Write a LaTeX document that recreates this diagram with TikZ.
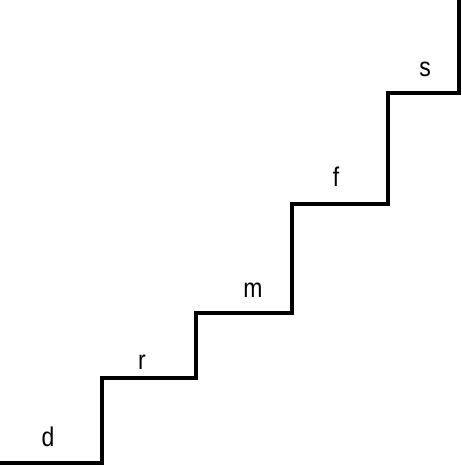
\documentclass[tikz,border=0pt]{standalone}
\usepackage{fontspec}
\setmainfont{Liberation Sans}[FakeStretch=0.85]
\begin{document}
\begin{tikzpicture}[x=1pt,y=-1pt,
  stair/.style={line width=3.2pt,line join=miter,black},
  lbl/.style={font=\fontsize{27}{29}\selectfont,inner sep=0pt}]
\useasboundingbox (0,0) rectangle (461,468);
\draw[stair] (0,463) -- (102,463) -- (102,378) -- (196,378) -- (196,313) -- (292,313)
  -- (292,204) -- (388,204) -- (388,93) -- (459,93) -- (459,0);
\node[lbl] (d) at (48,437) {d};
\node[lbl] (r) at (142,362) {r};
\node[lbl] (m) at (253,290) {m};
\node[lbl] (f) at (336,177) {f};
\node[lbl] (s) at (425,69) {s};
\end{tikzpicture}
\end{document}
